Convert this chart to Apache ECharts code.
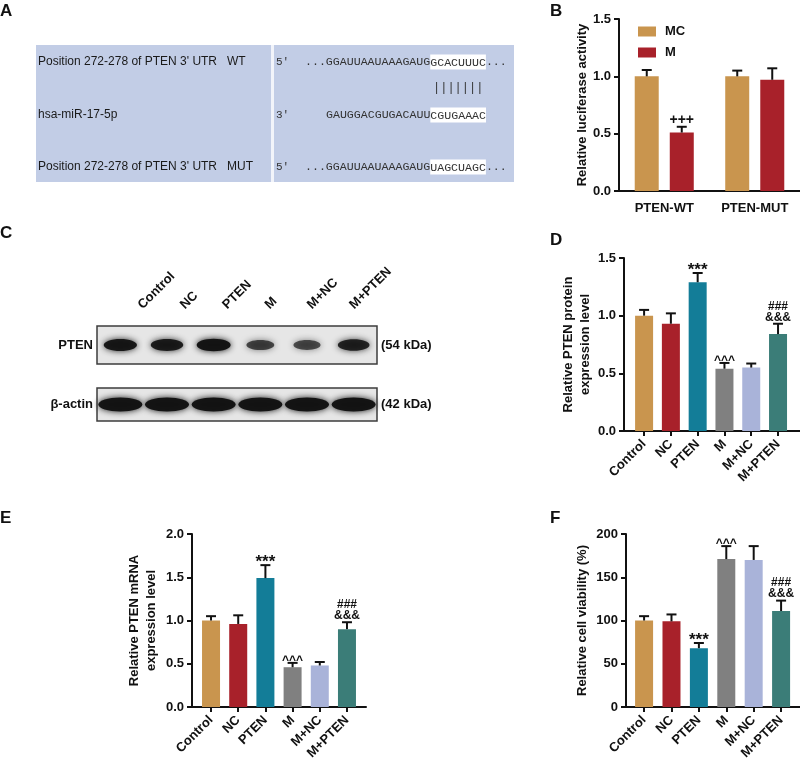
<!DOCTYPE html>
<html>
<head>
<meta charset="utf-8">
<script src="https://cdn.jsdelivr.net/npm/echarts@6/dist/echarts.min.js"></script>
<style>
html, body { margin: 0; padding: 0; background: #fff; }
#chart { width: 800px; height: 768px; }
</style>
</head>
<body>
<div id="chart"></div>
<script>
// groups used by C, D, E, F
const groups = ['Control', 'NC', 'PTEN', 'M', 'M+NC', 'M+PTEN']
const groupColors = ['#c9954e', '#a8212a', '#137d98', '#808080', '#a9b3d9', '#3b7d78']

// A: binding site
const seqRows = [
  { label: "Position 272-278 of PTEN 3' UTR", tag: 'WT', end: "5'", pre: '...GGAUUAAUAAAGAUG', site: 'GCACUUUC', post: '...' },
  { label: 'hsa-miR-17-5p', tag: '', end: "3'", pre: 'GAUGGACGUGACAUU', site: 'CGUGAAAC', post: '' },
  { label: "Position 272-278 of PTEN 3' UTR", tag: 'MUT', end: "5'", pre: '...GGAUUAAUAAAGAUG', site: 'UAGCUAGC', post: '...' }
]

// B: luciferase
const lucCats = ['PTEN-WT', 'PTEN-MUT']
const lucMC = [1.0, 1.0]
const lucMCErr = [1.055, 1.05]
const lucM = [0.51, 0.97]
const lucMErr = [0.56, 1.07]
const lucMMarks = ['+++', '']

// C: blot band intensity
const ptenBand = [0.95, 0.9, 1.0, 0.6, 0.55, 0.85]
const actinBand = [1, 1, 1, 1, 1, 1]

// D: protein
const protMean = [1.0, 0.93, 1.29, 0.54, 0.55, 0.84]
const protErr = [1.05, 1.02, 1.37, 0.59, 0.585, 0.93]
const protMarks = ['', '', '***', '^^^', '', '###\n&&&']

// E: mRNA
const mrnaMean = [1.0, 0.96, 1.49, 0.46, 0.48, 0.9]
const mrnaErr = [1.05, 1.06, 1.64, 0.51, 0.52, 0.98]
const mrnaMarks = ['', '', '***', '^^^', '', '###\n&&&']

// F: viability
const viaMean = [100, 99, 68, 171, 170, 111]
const viaErr = [105, 107, 74, 186, 186, 123]
const viaMarks = ['', '', '***', '^^^', '', '###\n&&&']

const FONT = "'Liberation Sans', Arial, sans-serif"
const MONO = "'Liberation Mono', 'DejaVu Sans Mono', monospace"
const ink = '#111'
const axisStyle = { color: ink, width: 2 }
const boldText = { color: ink, fontFamily: FONT, fontWeight: 'bold', fontSize: 13 }

const grids = []
const xAxes = []
const yAxes = []
const series = []

// size / nudge of the significance symbols
const markLook = t => {
  if (t[0] === '*') return { size: 17, lh: 17, dy: 6 }
  if (t[0] === '^') return { size: 12, lh: 12, dy: 4 }
  if (t[0] === '+') return { size: 14, lh: 14, dy: 0 }
  return { size: 12, lh: 11, dy: -1 }
}

// error bar + significance text
const errRender = (marks, dx) => (params, api) => {
  const p0 = api.coord([api.value(0), api.value(1)])
  const p1 = api.coord([api.value(0), api.value(2)])
  const cx = p0[0] + dx
  const kids = [
    { type: 'line', shape: { x1: cx, y1: p0[1], x2: cx, y2: p1[1] }, style: { stroke: ink, lineWidth: 2 } },
    { type: 'line', shape: { x1: cx - 5, y1: p1[1], x2: cx + 5, y2: p1[1] }, style: { stroke: ink, lineWidth: 2 } }
  ]
  const t = marks[params.dataIndex]
  if (t) {
    const look = markLook(t)
    kids.push({
      type: 'text', x: cx, y: p1[1] + look.dy,
      style: { text: t, align: 'center', verticalAlign: 'bottom', fontFamily: FONT, fontWeight: 'bold', fontSize: look.size, lineHeight: look.lh, fill: ink }
    })
  }
  return { type: 'group', children: kids }
}

// ---- B ----
grids.push({ left: 619, top: 19, width: 186, height: 172 })
xAxes.push({
  gridIndex: 0, type: 'category', data: lucCats,
  axisLine: { lineStyle: axisStyle },
  axisTick: { alignWithLabel: true, length: 5, lineStyle: axisStyle },
  axisLabel: { ...boldText, margin: 11 }
})
yAxes.push({
  gridIndex: 0, type: 'value', min: 0, max: 1.5, interval: 0.5,
  name: 'Relative luciferase activity', nameLocation: 'middle', nameGap: 24,
  nameTextStyle: boldText,
  axisLine: { show: true, lineStyle: axisStyle },
  axisTick: { show: true, length: 5, lineStyle: axisStyle },
  axisLabel: { ...boldText, margin: 8, formatter: v => v.toFixed(1) },
  splitLine: { show: false }
})
series.push(
  { name: 'MC', type: 'bar', xAxisIndex: 0, yAxisIndex: 0, data: lucMC, barWidth: 24, barGap: '46%', itemStyle: { color: groupColors[0] } },
  { name: 'M', type: 'bar', xAxisIndex: 0, yAxisIndex: 0, data: lucM, barWidth: 24, barGap: '46%', itemStyle: { color: groupColors[1] } },
  {
    type: 'custom', xAxisIndex: 0, yAxisIndex: 0, z: 5,
    data: lucMC.map((v, i) => [i, v, lucMCErr[i]]), encode: { x: 0, y: [1, 2] },
    renderItem: errRender(['', ''], -17.5)
  },
  {
    type: 'custom', xAxisIndex: 0, yAxisIndex: 0, z: 5,
    data: lucM.map((v, i) => [i, v, lucMErr[i]]), encode: { x: 0, y: [1, 2] },
    renderItem: errRender(lucMMarks, 17.5)
  }
)

// ---- D, E, F ----
const groupPanel = (g, off, xMax, yMax, yInt, name, nameGap, means, errs, marks, dec) => {
  const gi = grids.length
  grids.push(g)
  const pos = groups.map((n, i) => i + off)
  xAxes.push({
    gridIndex: gi, type: 'value', min: 0, max: xMax,
    axisLine: { show: true, onZero: false, lineStyle: axisStyle },
    axisTick: { show: true, customValues: pos, length: 5, lineStyle: axisStyle },
    axisLabel: { ...boldText, customValues: pos, rotate: 45, margin: 11, formatter: v => groups[Math.round(v - off)] },
    splitLine: { show: false }
  })
  yAxes.push({
    gridIndex: gi, type: 'value', min: 0, max: yMax, interval: yInt,
    name, nameLocation: 'middle', nameGap,
    nameTextStyle: { ...boldText, lineHeight: 17 },
    axisLine: { show: true, onZero: false, lineStyle: axisStyle },
    axisTick: { show: true, length: 5, lineStyle: axisStyle },
    axisLabel: { ...boldText, margin: 8, formatter: v => v.toFixed(dec) },
    splitLine: { show: false }
  })
  series.push(
    {
      type: 'bar', xAxisIndex: gi, yAxisIndex: gi, barWidth: 18,
      data: means.map((v, i) => ({ value: [pos[i], v], itemStyle: { color: groupColors[i] } }))
    },
    {
      type: 'custom', xAxisIndex: gi, yAxisIndex: gi, z: 5,
      data: means.map((v, i) => [pos[i], v, errs[i]]), encode: { x: 0, y: [1, 2] },
      renderItem: errRender(marks, 0)
    }
  )
}
groupPanel({ left: 624, top: 258, width: 176, height: 173 }, 0.75, 6.57, 1.5, 0.5,
  'Relative PTEN protein\nexpression level', 15, protMean, protErr, protMarks, 1)
groupPanel({ left: 192, top: 534, width: 174, height: 173 }, 0.7, 6.4, 2, 0.5,
  'Relative PTEN mRNA\nexpression level', 32, mrnaMean, mrnaErr, mrnaMarks, 1)
groupPanel({ left: 626, top: 534, width: 174, height: 173 }, 0.66, 6.35, 200, 50,
  'Relative cell viability (%)', 35, viaMean, viaErr, viaMarks, 0)

// ---- C: western blot ----
const blotPanel = (top, height, label, kda, bands, rx, ry) => {
  const gi = grids.length
  grids.push({ left: 97, top, width: 280, height, show: true, backgroundColor: '#e6e6e6', borderColor: '#3c3c3c', borderWidth: 1.5 })
  xAxes.push({ gridIndex: gi, type: 'category', data: groups, show: false })
  yAxes.push({
    gridIndex: gi, type: 'category', data: [label],
    axisLine: { show: false }, axisTick: { show: false }, axisLabel: { ...boldText, margin: 4 }
  })
  yAxes.push({
    gridIndex: gi, type: 'category', data: [kda], position: 'right',
    axisLine: { show: false }, axisTick: { show: false }, axisLabel: { ...boldText, margin: 4 }
  })
  series.push({
    type: 'custom', xAxisIndex: gi, yAxisIndex: yAxes.length - 2,
    data: bands.map((v, i) => [i, 0, v]), encode: { x: 0, y: 1 },
    renderItem: (params, api) => {
      const c = api.coord([api.value(0), api.value(1)])
      const s = 0.55 + 0.45 * api.value(2)
      const a = 0.3 + 0.68 * api.value(2)
      return {
        type: 'ellipse',
        shape: { cx: c[0], cy: c[1], rx: rx * s, ry: ry * s },
        style: { fill: 'rgba(18,18,18,' + a + ')', shadowBlur: 6, shadowColor: 'rgba(18,18,18,' + a + ')' }
      }
    }
  })
}
// lane labels
grids.push({ left: 119, top: 309, width: 254, height: 10 })
xAxes.push({
  gridIndex: grids.length - 1, type: 'category', data: groups, position: 'top',
  axisLine: { show: false }, axisTick: { show: false },
  axisLabel: { ...boldText, rotate: 45, margin: 2 }
})
yAxes.push({ gridIndex: grids.length - 1, type: 'value', show: false })
blotPanel(326, 38, 'PTEN', '(54 kDa)', ptenBand, 17, 6.2)
blotPanel(388, 33, 'β-actin', '(42 kDa)', actinBand, 22, 7)

// ---- A + panel letters ----
const graphic = [
  { type: 'rect', shape: { x: 36, y: 45, width: 478, height: 137 }, style: { fill: '#c2cde6' } },
  { type: 'rect', shape: { x: 271, y: 45, width: 3, height: 137 }, style: { fill: '#f2f4fa' } },
  { type: 'text', x: 433, y: 88, style: { text: '|||||||', font: '12px ' + MONO, fill: '#333', verticalAlign: 'middle' } }
]
const rowY = [62, 115, 167]
seqRows.forEach((r, i) => {
  graphic.push(
    { type: 'text', x: 38, y: rowY[i], style: { text: r.label, font: '12px ' + FONT, fill: '#1a1a1a', verticalAlign: 'middle' } },
    { type: 'text', x: 227, y: rowY[i], style: { text: r.tag, font: '12px ' + FONT, fill: '#1a1a1a', verticalAlign: 'middle' } },
    { type: 'text', x: 276, y: rowY[i], style: { text: r.end, font: '11px ' + MONO, fill: '#333', verticalAlign: 'middle' } },
    {
      type: 'text', x: i === 1 ? 326 : 305, y: rowY[i],
      style: {
        text: '{n|' + r.pre + '}{h|' + r.site + '}' + (r.post ? '{n|' + r.post + '}' : ''),
        verticalAlign: 'middle',
        rich: {
          n: { fontFamily: MONO, fontSize: 11.6, fill: '#333' },
          h: { fontFamily: MONO, fontSize: 11.6, fill: '#333', backgroundColor: '#ffffff', padding: [2, 0, 1, 0] }
        }
      }
    }
  )
})
const letters = [['A', 0, 3], ['B', 550, 3], ['C', 0, 225], ['D', 550, 232], ['E', 0, 510], ['F', 550, 510]]
letters.forEach(([t, x, y]) => {
  graphic.push({ type: 'text', x, y, style: { text: t, font: 'bold 17px ' + FONT, fill: ink } })
})

const chart = echarts.init(document.getElementById('chart'))
chart.setOption({
  animation: false,
  backgroundColor: '#fff',
  legend: {
    data: ['MC', 'M'], orient: 'vertical', left: 633, top: 20,
    itemWidth: 18, itemHeight: 10, itemGap: 8, icon: 'rect',
    textStyle: { ...boldText, padding: [0, 0, 0, 4] }
  },
  grid: grids,
  xAxis: xAxes,
  yAxis: yAxes,
  series,
  graphic
})
</script>
</body>
</html>
